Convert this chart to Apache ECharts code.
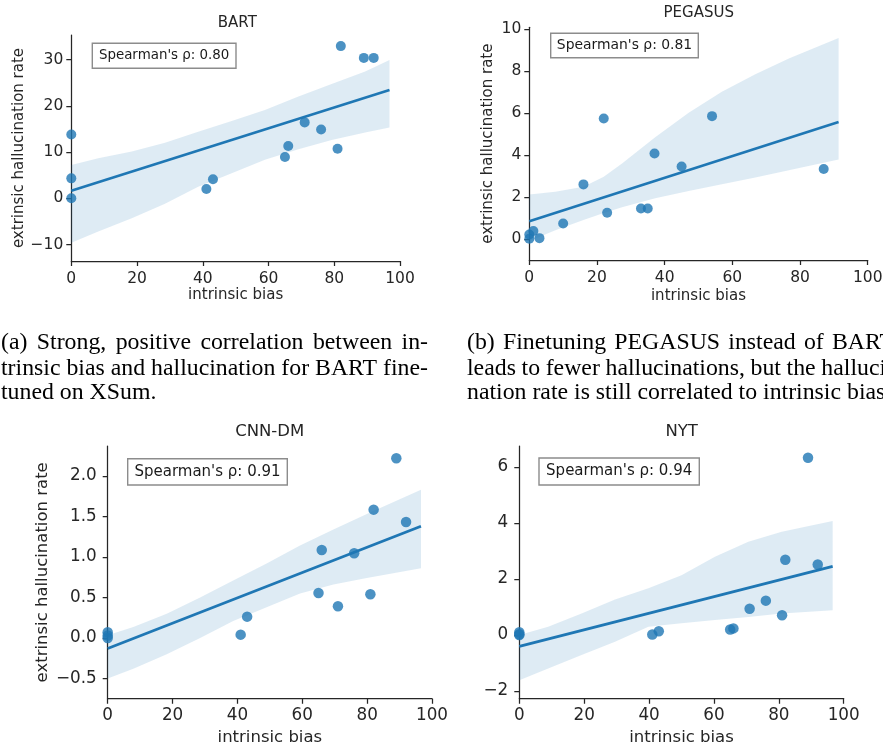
<!DOCTYPE html>
<html><head><meta charset="utf-8">
<script src="https://cdn.jsdelivr.net/npm/echarts@6.0.0/dist/echarts.min.js"></script>
<style>html,body{margin:0;padding:0;background:#fff}#c{width:883px;height:747px}</style>
</head><body><div id="c"></div>
<script>
// ---------------- data ----------------
const xTicks = [0, 20, 40, 60, 80, 100];
const rhoValues = ['0.80', '0.81', '0.91', '0.94'];
const panelTitles = ['BART', 'PEGASUS', 'CNN-DM', 'NYT'];

// BART (XSum)
const bartX = [0, 0, 0, 41.1, 43.1, 65, 66, 71, 76, 81, 82, 89, 92];
const bartY = [13.8, 4.3, 0.0, 2.0, 4.1, 8.9, 11.3, 16.4, 14.85, 10.7, 32.9, 30.35, 30.35];
const bartFitX = [0, 96.8];
const bartFitY = [1.6, 23.4];
const bartBandX = [0, 8.2, 18.4, 28.5, 38.6, 48.8, 58.9, 69.1, 79.2, 89.4, 96.8];
const bartBandUpper = [7.2, 8.65, 10.1, 12.0, 14.4, 16.7, 19.1, 22.0, 24.7, 27.4, 29.9];
const bartBandLower = [-9.6, -7.2, -4.3, -1.2, 2.5, 5.4, 8.3, 10.6, 12.6, 14.2, 15.3];
const bartYTicks = [-10, 0, 10, 20, 30];

// PEGASUS
const pegX = [0, 0, 1.2, 3, 10, 16, 22, 23, 33, 35, 37, 45, 54, 87];
const pegY = [0.0, 0.2, 0.37, 0.03, 0.73, 2.59, 5.73, 1.24, 1.44, 1.44, 4.06, 3.44, 5.84, 3.32];
const pegFitX = [0, 91.4];
const pegFitY = [0.83, 5.56];
const pegBandX = [0, 7.7, 16, 22, 27.4, 37.2, 47.1, 56.9, 66.8, 76.7, 91.4];
const pegBandUpper = [2.11, 2.24, 2.48, 2.95, 3.59, 4.83, 6.0, 7.0, 7.84, 8.59, 9.56];
const pegBandLower = [-0.1, 0.41, 0.89, 1.23, 1.5, 1.93, 2.28, 2.6, 2.92, 3.26, 3.78];
const pegYTicks = [0, 2, 4, 6, 8, 10];

// CNN-DM
const cnnX = [0, 0, 0, 41, 43, 65, 66, 71, 76, 81, 82, 89, 92];
const cnnY = [0.07, 0.03, 0.0, 0.041, 0.263, 0.556, 1.086, 0.391, 1.045, 0.539, 1.584, 2.218, 1.432];
const cnnFitX = [0, 96.6];
const cnnFitY = [-0.13, 1.38];
const cnnBandX = [0, 7.9, 18.2, 28.5, 38.7, 49, 59.3, 69.6, 79.9, 96.6];
const cnnBandUpper = [0.033, 0.136, 0.30, 0.50, 0.71, 0.92, 1.14, 1.34, 1.53, 1.83];
const cnnBandLower = [-0.50, -0.38, -0.20, 0.0, 0.21, 0.38, 0.55, 0.66, 0.74, 0.86];
const cnnYTicks = [-0.5, 0, 0.5, 1, 1.5, 2];

// NYT
const nytX = [0, 0, 0, 41, 43, 65, 66, 71, 76, 81, 82, 89, 92];
const nytY = [0.1, 0.03, 0.0, 0.02, 0.14, 0.20, 0.24, 0.94, 1.23, 0.71, 2.69, 6.33, 2.52];
const nytFitX = [0, 96.6];
const nytFitY = [-0.4, 2.45];
const nytBandX = [0, 8.9, 19.2, 29.5, 39.8, 50, 60.3, 70.6, 80.9, 96.6];
const nytBandUpper = [0.0, 0.30, 0.77, 1.27, 1.67, 2.14, 2.80, 3.33, 3.69, 4.07];
const nytBandLower = [-1.61, -1.19, -0.71, -0.24, 0.30, 0.42, 0.54, 0.65, 0.77, 0.89];
const nytYTicks = [-2, 0, 2, 4, 6];

const captionA = ['(a) Strong, positive correlation between in-', 'trinsic bias and hallucination for BART fine-', 'tuned on XSum.'];
const captionB = ['(b) Finetuning PEGASUS instead of BART', 'leads to fewer hallucinations, but the halluci-', 'nation rate is still correlated to intrinsic bias.'];

// ---------------- layout ----------------
const TXT = '#262626';
const BLUE = '#1f77b4';
const panels = [
  {x: bartX, y: bartY, fx: bartFitX, fy: bartFitY, bx: bartBandX, bu: bartBandUpper, bl: bartBandLower, yt: bartYTicks,
   grid: {left: 71.3, top: 35, width: 328.7, height: 226}, ymin: -13.57, ymax: 35.3, dec: 0,
   fs: 15, tfs: 15.5, boxFs: 13.4, xm: 10, ym: 8, xng: 27, yng: 44, ylab: true, sym: 10, lw: 2.6,
   title: [237.3, 22.8], box: [92.3, 43.3, 143.7, 25]},
  {x: pegX, y: pegY, fx: pegFitX, fy: pegFitY, bx: pegBandX, bu: pegBandUpper, bl: pegBandLower, yt: pegYTicks,
   grid: {left: 529.3, top: 27.3, width: 338.4, height: 232.7}, ymin: -1.01, ymax: 10.07, dec: 0,
   fs: 15, tfs: 15.5, boxFs: 13.9, xm: 10, ym: 8, xng: 28.5, yng: 34, ylab: true, sym: 10, lw: 2.6,
   title: [698.7, 13.6], box: [550.7, 33.3, 147.6, 24.4]},
  {x: cnnX, y: cnnY, fx: cnnFitX, fy: cnnFitY, bx: cnnBandX, bu: cnnBandUpper, bl: cnnBandLower, yt: cnnYTicks,
   grid: {left: 107.7, top: 446, width: 324.3, height: 252.7}, ymin: -0.75, ymax: 2.37, dec: 1,
   fs: 16.5, tfs: 16.8, boxFs: 15, xm: 8.5, ym: 11, xng: 31, yng: 56, ylab: true, sym: 10.5, lw: 2.8,
   title: [269.7, 432], box: [127.7, 458.7, 159.6, 26.3]},
  {x: nytX, y: nytY, fx: nytFitX, fy: nytFitY, bx: nytBandX, bu: nytBandUpper, bl: nytBandLower, yt: nytYTicks,
   grid: {left: 519.3, top: 446, width: 324.4, height: 252.7}, ymin: -2.27, ymax: 6.75, dec: 0,
   fs: 16.5, tfs: 16.8, boxFs: 15, xm: 8.5, ym: 11, xng: 31, yng: 56, ylab: false, sym: 10.5, lw: 2.8,
   title: [681.7, 432], box: [539, 458, 160.3, 27]}
];

function fmt(dec) {
  return v => (dec ? Number(v).toFixed(dec) : String(Math.round(v * 100) / 100)).replace('-', '\u2212');
}

const option = {
  animation: false,
  backgroundColor: '#fff',
  textStyle: {fontFamily: 'DejaVu Sans'},
  grid: [], xAxis: [], yAxis: [], series: [], graphic: []
};

panels.forEach((p, i) => {
  option.grid.push(Object.assign({containLabel: false, outerBoundsMode: 'none', show: false}, p.grid));
  const lineSt = {show: true, onZero: false, lineStyle: {color: TXT, width: 1.25}};
  const tickSt = {show: true, inside: false, length: 5, lineStyle: {color: TXT, width: 1.25}};
  const nameSt = {color: TXT, fontSize: p.fs, fontFamily: 'DejaVu Sans'};
  option.xAxis.push({
    type: 'value', gridIndex: i, min: 0, max: 100,
    axisLine: lineSt, splitLine: {show: false},
    axisTick: Object.assign({customValues: xTicks}, tickSt),
    axisLabel: {customValues: xTicks, margin: p.xm, color: TXT, fontSize: p.tfs, fontFamily: 'DejaVu Sans', formatter: fmt(0)},
    name: 'intrinsic bias', nameLocation: 'middle', nameGap: p.xng, nameTextStyle: nameSt
  });
  option.yAxis.push({
    type: 'value', gridIndex: i, min: p.ymin, max: p.ymax,
    axisLine: lineSt, splitLine: {show: false},
    axisTick: Object.assign({customValues: p.yt}, tickSt),
    axisLabel: {customValues: p.yt, margin: p.ym, color: TXT, fontSize: p.tfs, fontFamily: 'DejaVu Sans', formatter: fmt(p.dec)},
    name: p.ylab ? 'extrinsic hallucination rate' : '', nameLocation: 'middle', nameGap: p.yng, nameTextStyle: nameSt
  });
  option.series.push({
    type: 'scatter', xAxisIndex: i, yAxisIndex: i,
    data: p.x.map((v, k) => [v, p.y[k]]),
    symbolSize: p.sym, itemStyle: {color: BLUE, opacity: 0.8}, z: 2, silent: true
  });
  option.series.push({
    type: 'custom', xAxisIndex: i, yAxisIndex: i, silent: true, z: 3,
    data: p.bx.map((v, k) => [v, p.bl[k], p.bu[k]]),
    encode: {x: 0, y: [1, 2]},
    renderItem: (params, api) => {
      if (params.dataIndex !== 0) return null;
      const up = p.bx.map((v, k) => api.coord([v, p.bu[k]]));
      const lo = p.bx.map((v, k) => api.coord([v, p.bl[k]])).reverse();
      return {type: 'polygon', shape: {points: up.concat(lo)}, style: {fill: 'rgba(31,119,180,0.15)', stroke: null}};
    }
  });
  option.series.push({
    type: 'line', xAxisIndex: i, yAxisIndex: i, silent: true, z: 4,
    data: p.fx.map((v, k) => [v, p.fy[k]]),
    symbol: 'none', showSymbol: false, lineStyle: {color: BLUE, width: p.lw}
  });
  // title
  option.graphic.push({type: 'text', z: 100, style: {text: panelTitles[i], x: p.title[0], y: p.title[1],
    align: 'center', verticalAlign: 'middle', fontSize: p.fs, fontFamily: 'DejaVu Sans', fill: TXT}});
  // Spearman box
  const b = p.box;
  option.graphic.push({type: 'rect', z: 100, shape: {x: b[0], y: b[1], width: b[2], height: b[3]},
    style: {fill: '#fff', stroke: '#8c8c8c', lineWidth: 1.4}});
  option.graphic.push({type: 'text', z: 101, style: {text: "Spearman's \u03c1: " + rhoValues[i],
    x: b[0] + b[2] / 2, y: b[1] + b[3] / 2, align: 'center', verticalAlign: 'middle',
    fontSize: p.boxFs, fontFamily: 'DejaVu Sans', fill: '#1a1a1a'}});
});

// captions (justified like the LaTeX source)
const capFs = 23.8;
const capFamily = 'Liberation Serif';
const mctx = document.createElement('canvas').getContext('2d');
mctx.font = capFs + 'px "' + capFamily + '"';
function addCaption(lines, x0, width, baselines) {
  lines.forEach((line, li) => {
    const yMid = baselines[li] - 0.3375 * capFs;
    const justify = li < lines.length - 1;
    if (!justify) {
      option.graphic.push({type: 'text', z: 100, style: {text: line, x: x0, y: yMid, align: 'left', verticalAlign: 'middle',
        fontSize: capFs, fontFamily: capFamily, fill: '#000'}});
      return;
    }
    const words = line.split(' ');
    const widths = words.map(w => mctx.measureText(w).width);
    const total = widths.reduce((a, c) => a + c, 0);
    const gap = (width - total) / (words.length - 1);
    let x = x0;
    words.forEach((w, wi) => {
      option.graphic.push({type: 'text', z: 100, style: {text: w, x: x, y: yMid, align: 'left', verticalAlign: 'middle',
        fontSize: capFs, fontFamily: capFamily, fill: '#000'}});
      x += widths[wi] + gap;
    });
  });
}
addCaption(captionA, 1, 427, [351, 376.5, 401]);
addCaption(captionB, 467, 427, [351, 376.5, 401]);

const chart = echarts.init(document.getElementById('c'), null, {renderer: 'canvas', width: 883, height: 747});
chart.setOption(option);
</script></body></html>
